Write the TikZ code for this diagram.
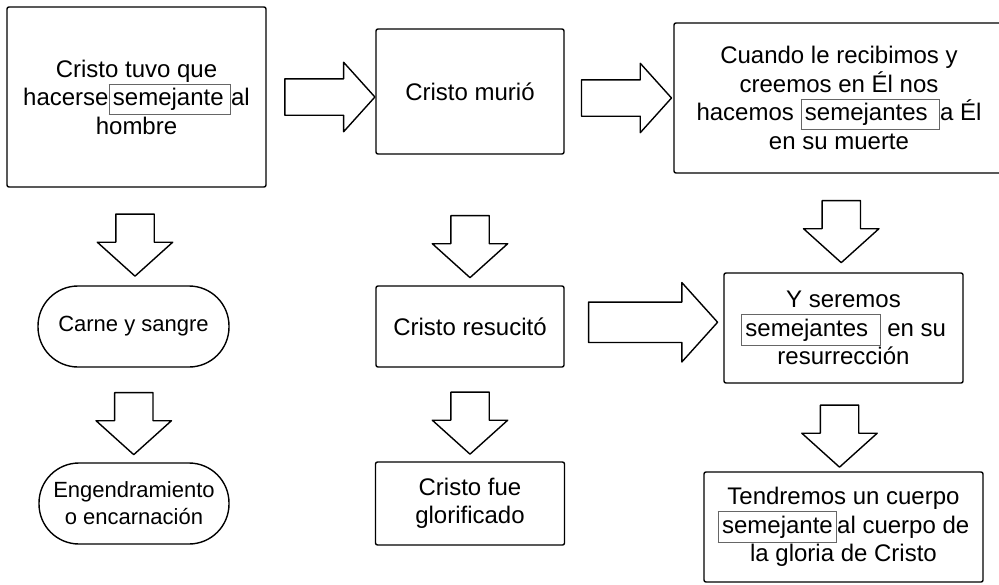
\documentclass[tikz,border=0pt]{standalone}
\usepackage{fontspec}
\setmainfont{Liberation Sans}
\usepackage{xcolor}
\usepackage{tikz}
\usetikzlibrary{shapes.arrows, calc}

\newcommand\boxfont{\fontsize{24}{28.5}\selectfont}
\newcommand\pillfont{\fontsize{22}{27}\selectfont}
\newcommand\seme[1]{{\setlength\fboxsep{3.5pt}\setlength\fboxrule{0.9pt}\color{black!60}\fbox{\color{black}#1}}}

\begin{document}
\begin{tikzpicture}[x=1pt, y=-1pt]
\tikzstyle{idea} = [rectangle, rounded corners=2pt, draw=black, line width=1.4pt, align=center, font=\boxfont, inner sep=0pt]
\tikzstyle{pill} = [idea, rounded corners=40pt, font=\pillfont]
\tikzstyle{bigarrow} = [single arrow, draw=black, fill=white, line width=1.4pt, line join=round, inner xsep=0pt, single arrow tip angle=96]
\tikzstyle{sidearrow} = [bigarrow, minimum height=90pt, inner ysep=17.5pt, single arrow head extend=16.5pt]
\tikzstyle{downarrow} = [bigarrow, rotate=-90, minimum height=62pt, inner ysep=18.5pt, single arrow head extend=18.5pt]

\useasboundingbox (0,0) rectangle (999,584);

\node (cristo) [idea, minimum width=259pt, minimum height=180pt] at (136.5,97) {Cristo tuvo que\\hacerse\seme{semejante\hspace{3pt}}al\\hombre};
\node (murio) [idea, minimum width=188pt, minimum height=125pt] at (470,91.5) {Cristo murió};
\node (muerte) [idea, minimum width=330pt, minimum height=150pt] at (839,98) {Cuando le recibimos y\\creemos en Él nos\\hacemos \seme{semejantes\hspace{8pt}}a Él\\en su muerte};
\node (carne) [pill, minimum width=191pt, minimum height=81pt] at (133.5,326.5) {Carne y sangre};
\node (encarn) [pill, minimum width=190pt, minimum height=81pt] at (134,503.5) {Engendramiento\\o encarnación};
\node (resucito) [idea, minimum width=188pt, minimum height=81pt] at (470,326.5) {Cristo resucitó};
\node (glorif) [idea, minimum width=189pt, minimum height=83pt] at (470,503.5) {Cristo fue\\glorificado};
\node (seremos) [idea, minimum width=239pt, minimum height=110pt] at (843.5,328) {Y seremos\\\seme{semejantes\hspace{8pt}} en su\\resurrección};
\node (tendremos) [idea, minimum width=279pt, minimum height=110pt] at (843.5,527) {Tendremos un cuerpo\\\seme{semejante}al cuerpo de\\la gloria de Cristo};

\node (a1) [sidearrow] at ($(cristo.east)+(55,0)$) {};
\node (a2) [sidearrow] at ($(muerte.west)+(-55,0)$) {};
\node (a3) [bigarrow, minimum height=129pt, inner ysep=19.5pt, single arrow head extend=19.5pt] at ($(resucito.east)!0.5!(seremos.west)+(0,-5)$) {};

\node (d1) [downarrow] at ($(cristo.south)!0.5!(carne.north)$) {};
\node (d2) [downarrow] at ($(carne.south)!0.5!(encarn.north)$) {};
\node (d3) [downarrow] at ($(murio.south)!0.5!(resucito.north)+(0,18)$) {};
\node (d4) [downarrow] at ($(resucito.south)!0.5!(glorif.north)$) {};
\node (d5) [downarrow] at ($(muerte.south)!0.5!(seremos.north)$) {};
\node (d6) [downarrow] at ($(seremos.south)!0.5!(tendremos.north)+(-4,0)$) {};
\end{tikzpicture}
\end{document}
